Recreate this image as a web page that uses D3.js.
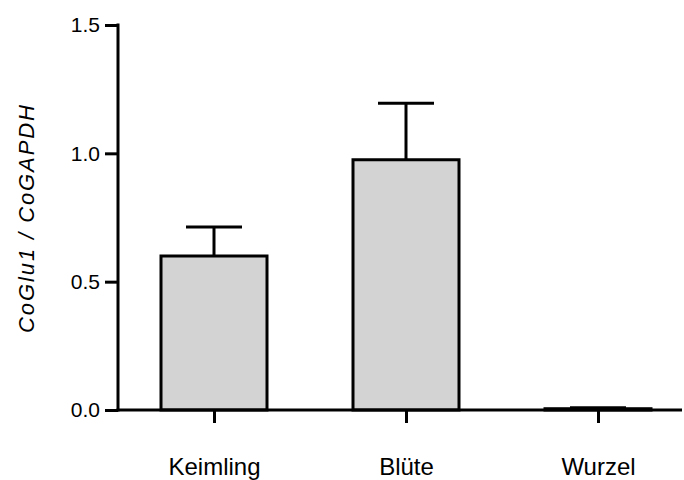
<!DOCTYPE html>
<html>
<head>
<meta charset="utf-8">
<script src="https://cdn.jsdelivr.net/npm/d3@7"></script>
<style>
  body { margin: 0; background: #fff; }
  text { font-family: "Liberation Sans", Arial, sans-serif; }
</style>
</head>
<body>
<svg id="chart" width="684" height="480"></svg>
<script>
// data
const categories = ["Keimling", "Blüte", "Wurzel"];
const means = [0.60, 0.975, 0.005];
const errors = [0.113, 0.22, 0.004];
const yTicks = [0.0, 0.5, 1.0, 1.5];

const svg = d3.select("#chart");

// plot area
const x0 = 118, x1 = 694;
const yBottom = 410, yTop = 25;

const x = d3.scalePoint().domain(categories).range([x0, x1]).padding(0.5);
const y = d3.scaleLinear().domain([0, 1.5]).range([yBottom, yTop]);

const barW = 106;
const capW = 56;

// bars
svg.selectAll(".bar")
  .data(categories)
  .join("rect")
  .attr("class", "bar")
  .attr("x", d => x(d) - barW / 2)
  .attr("y", (d, i) => y(means[i]))
  .attr("width", barW)
  .attr("height", (d, i) => y(0) - y(means[i]))
  .attr("fill", "#d3d3d3")
  .attr("stroke", "#000")
  .attr("stroke-width", 3);

// error bars (upper only)
svg.selectAll(".err")
  .data(categories)
  .join("line")
  .attr("class", "err")
  .attr("x1", d => x(d)).attr("x2", d => x(d))
  .attr("y1", (d, i) => y(means[i]))
  .attr("y2", (d, i) => y(means[i] + errors[i]))
  .attr("stroke", "#000")
  .attr("stroke-width", 3);

svg.selectAll(".cap")
  .data(categories)
  .join("line")
  .attr("class", "cap")
  .attr("x1", d => x(d) - capW / 2).attr("x2", d => x(d) + capW / 2)
  .attr("y1", (d, i) => y(means[i] + errors[i]))
  .attr("y2", (d, i) => y(means[i] + errors[i]))
  .attr("stroke", "#000")
  .attr("stroke-width", 3);

// y axis
const yAxis = svg.append("g")
  .attr("transform", `translate(${x0},0)`)
  .call(d3.axisLeft(y).tickValues(yTicks).tickFormat(d3.format(".1f")).tickSize(13).tickSizeOuter(0).tickPadding(5));
yAxis.select(".domain").attr("stroke-width", 3).attr("d", `M0,${y(1.5) - 1.5}V${yBottom + 1.5}`);
yAxis.selectAll(".tick line").attr("stroke-width", 3);
yAxis.selectAll(".tick text").attr("font-size", 21).attr("fill", "#000")
  .style("font-family", "'Liberation Sans', Arial, sans-serif");

// x axis
const xAxis = svg.append("g")
  .attr("transform", `translate(0,${yBottom})`)
  .call(d3.axisBottom(x).tickSize(13).tickSizeOuter(0).tickPadding(35));
xAxis.select(".domain").attr("stroke-width", 3).attr("d", `M${x0 - 1.5},0H682`);
xAxis.selectAll(".tick line").attr("stroke-width", 3);
xAxis.selectAll(".tick text").attr("font-size", 24).attr("fill", "#000")
  .style("font-family", "'Liberation Sans', Arial, sans-serif");

// y label
svg.append("text")
  .attr("transform", `translate(34,219) rotate(-90)`)
  .attr("text-anchor", "middle")
  .attr("font-size", 22)
  .attr("font-style", "italic")
  .attr("textLength", 228)
  .attr("lengthAdjust", "spacing")
  .text("CoGlu1 / CoGAPDH");
</script>
</body>
</html>
